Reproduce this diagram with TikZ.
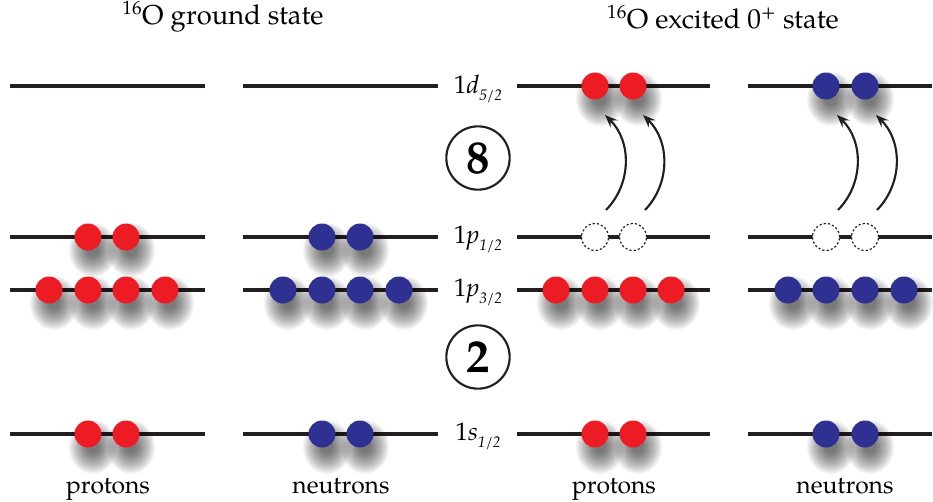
\documentclass[tikz,border=0pt]{standalone}
\usepackage{fontspec}
\setmainfont{TeX Gyre Pagella}
\usetikzlibrary{arrows.meta}
\definecolor{pred}{HTML}{ED1C24}
\definecolor{nblue}{HTML}{2E3192}
\definecolor{lvlblack}{HTML}{231F20}
\newcommand\lvlname[2]{1\textit{#1}\raisebox{-0.6ex}{\fontsize{11.5}{11.5}\selectfont\itshape #2}}
\tikzset{
  level/.style={line width=2.3pt, lvlblack},
  ball/.style={circle, inner sep=0pt, minimum size=20.25pt},
  proton/.style={ball, fill=pred},
  neutron/.style={ball, fill=nblue},
  softshadow/.style={fill=black, opacity=0.05},
  hole/.style={circle, inner sep=0pt, minimum size=20.25pt, draw=lvlblack, fill=white,
    line width=0.9pt, dash pattern=on 1.6pt off 1.6pt},
  lvllabel/.style={anchor=base, font=\fontsize{19}{19}\selectfont, inner sep=0pt},
  heading/.style={font=\fontsize{20.5}{22}\selectfont, inner sep=0pt},
  species/.style={anchor=base, font=\fontsize{18.5}{20}\selectfont, inner sep=0pt},
  magic/.style={circle, draw=lvlblack, line width=1.6pt, minimum size=47.5pt, inner sep=0pt,
    font=\bfseries\fontsize{35}{35}\selectfont},
  excite/.style={line width=1.6pt, lvlblack, -{Stealth[length=9.5pt,width=7.5pt,inset=3.5pt]}}
}
% shadow then ball: #1 style, #2 name, #3 x, #4 y
\newcommand\ballat[4]{%
  \foreach \r in {24,22.6,21.2,19.8,18.4,17,15.6,14.2,12.8,11.4,10,8.6,7.2,5.8}{%
    \fill[softshadow] (#3+5,#4+13) ellipse[x radius=\r, y radius=1.12*\r];}
  \node[#1] (#2) at (#3,#4) {};}
\begin{document}
\begin{tikzpicture}[x=0.75pt, y=-0.75pt]
\useasboundingbox (0,0) rectangle (933,501);
% level lines
\foreach \ly in {86,237,290,434}{
  \draw[level] (10,\ly) -- (205,\ly);
  \draw[level] (243,\ly) -- (438,\ly);
  \draw[level] (517,\ly) -- (710,\ly);
  \draw[level] (748,\ly) -- (932,\ly);
}
% headings
\node[heading] (h1) at (223,17) {\textsuperscript{16}O ground state};
\node[heading] (h2) at (723,17) {\textsuperscript{16}O excited 0\textsuperscript{+} state};
% level labels
\node[lvllabel] (ld) at (478,93) {\lvlname{d}{5/2}};
\node[lvllabel] (lp1) at (478,243) {\lvlname{p}{1/2}};
\node[lvllabel] (lp3) at (478,296) {\lvlname{p}{3/2}};
\node[lvllabel] (ls) at (478,440) {\lvlname{s}{1/2}};
% magic numbers
\node[magic] (m8) at (478,158) {8};
\node[magic] (m2) at (478,357) {2};
% column 1: protons ground state
\foreach \x [count=\i] in {88,126}{\ballat{proton}{a-s-\i}{\x}{434}}
\foreach \x [count=\i] in {49,88,126,165}{\ballat{proton}{a-p3-\i}{\x}{290}}
\foreach \x [count=\i] in {88,126}{\ballat{proton}{a-p1-\i}{\x}{237}}
% column 2: neutrons ground state
\foreach \x [count=\i] in {322,360}{\ballat{neutron}{b-s-\i}{\x}{434}}
\foreach \x [count=\i] in {283,322,360,399}{\ballat{neutron}{b-p3-\i}{\x}{290}}
\foreach \x [count=\i] in {322,360}{\ballat{neutron}{b-p1-\i}{\x}{237}}
% column 3: protons excited
\foreach \x [count=\i] in {595,633}{\ballat{proton}{c-s-\i}{\x}{434}}
\foreach \x [count=\i] in {556,595,633,671}{\ballat{proton}{c-p3-\i}{\x}{290}}
\foreach \x [count=\i] in {595,633}{\node[hole] (c-p1-\i) at (\x,237) {};}
\foreach \x [count=\i] in {595,633}{\ballat{proton}{c-d-\i}{\x}{86}}
% column 4: neutrons excited
\foreach \x [count=\i] in {826,865}{\ballat{neutron}{d-s-\i}{\x}{434}}
\foreach \x [count=\i] in {788,826,865,904}{\ballat{neutron}{d-p3-\i}{\x}{290}}
\foreach \x [count=\i] in {826,865}{\node[hole] (d-p1-\i) at (\x,237) {};}
\foreach \x [count=\i] in {826,865}{\ballat{neutron}{d-d-\i}{\x}{86}}
% excitation arrows
\coordinate (c-f-1) at (606,210); \coordinate (c-t-1) at (605,115);
\coordinate (c-f-2) at (645,210); \coordinate (c-t-2) at (643,115);
\coordinate (d-f-1) at (838,210); \coordinate (d-t-1) at (837,115);
\coordinate (d-f-2) at (877,210); \coordinate (d-t-2) at (876,115);
\foreach \c in {c,d}{\foreach \i in {1,2}{
  \draw[excite] (\c-f-\i) to[bend right=45] (\c-t-\i);
}}
% species labels
\node[species] (sa) at (108,493) {protons};
\node[species] (sb) at (341,493) {neutrons};
\node[species] (sc) at (614,493) {protons};
\node[species] (sd) at (845,493) {neutrons};
\end{tikzpicture}
\end{document}
